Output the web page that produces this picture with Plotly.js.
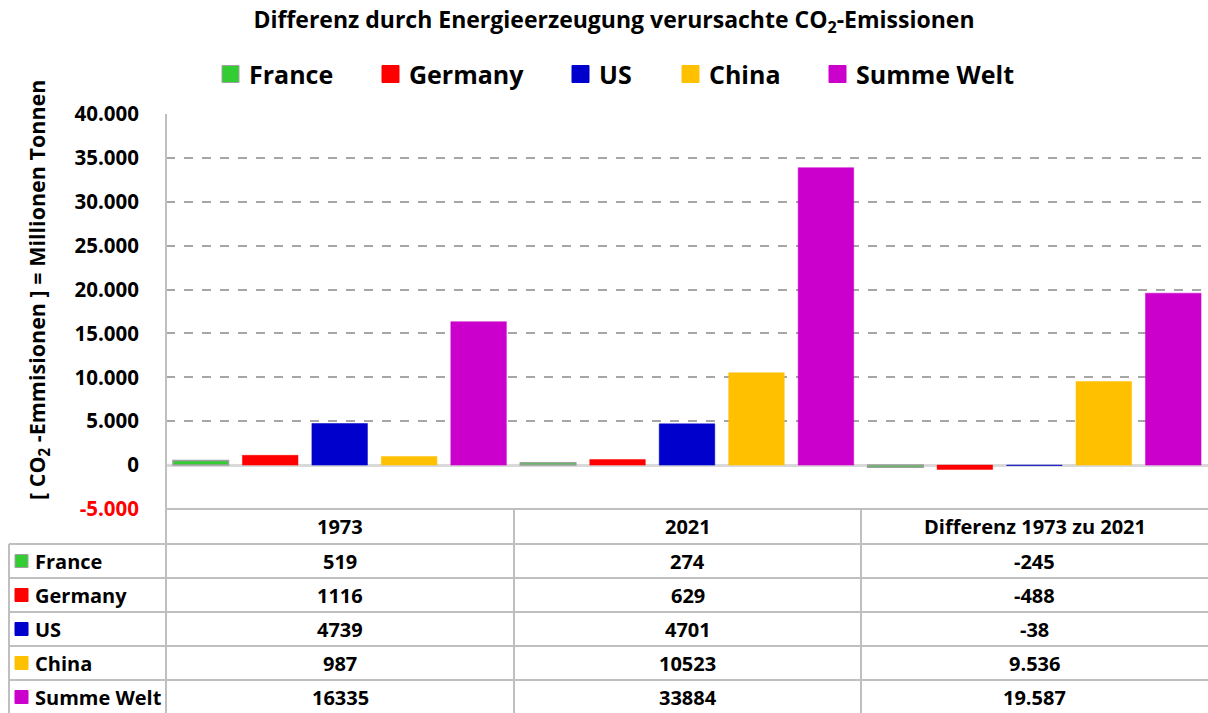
<!DOCTYPE html>
<html>
<head>
<meta charset="utf-8">
<script src="https://cdn.plot.ly/plotly-3.0.1.min.js"></script>
<style>html,body{margin:0;padding:0;background:#fff;}#chart{width:1208px;height:713px;}</style>
</head>
<body>
<div id="chart"></div>
<script>
// ---- data ----
const categories = ['1973', '2021', 'Differenz 1973 zu 2021'];
const seriesNames = ['France', 'Germany', 'US', 'China', 'Summe Welt'];
const france = [519, 274, -245];
const germany = [1116, 629, -488];
const us = [4739, 4701, -38];
const china = [987, 10523, 9536];
const summeWelt = [16335, 33884, 19587];
const seriesColors = ['#33cc33', '#ff0000', '#0000cc', '#ffc000', '#cc00cc'];
const tickVals = [-5000, 0, 5000, 10000, 15000, 20000, 25000, 30000, 35000, 40000];
const tickLabels = ['<span style="color:#ff0000">-5.000</span>', '0', '5.000', '10.000', '15.000', '20.000', '25.000', '30.000', '35.000', '40.000'];

const allSeries = [france, germany, us, china, summeWelt];

// ---- geometry helpers (px -> paper) ----
const W = 1208, H = 713;
const L = 166, R = 1208, T = 114, B = 509;
const xp = px => (px - L) / (R - L);
const yp = py => (B - py) / (B - T);

const FONT = '"Open Sans", Lato, sans-serif';

const traces = seriesNames.map((name, i) => ({
  type: 'bar',
  name: name,
  x: categories,
  y: allSeries[i],
  marker: {
    color: seriesColors[i],
    line: { color: i === 0 ? '#a0a0a0' : seriesColors[i], width: i === 0 ? 1.5 : 0.5 }
  },
  showlegend: false,
  hoverinfo: 'x+y+name'
}));

const shapes = [];
const annotations = [];

// ---- legend (drawn as shapes + annotations) ----
const legendSquareX = [222, 382, 572, 682, 829];
const legendY = 74, legendSq = 17;
seriesNames.forEach((name, i) => {
  const x0 = legendSquareX[i];
  shapes.push({ type: 'rect', xref: 'paper', yref: 'paper', x0: xp(x0), x1: xp(x0 + legendSq), y0: yp(legendY - legendSq / 2), y1: yp(legendY + legendSq / 2), fillcolor: seriesColors[i], line: { color: i === 0 ? '#a0a0a0' : seriesColors[i], width: 1 } });
  annotations.push({ xref: 'paper', yref: 'paper', x: xp(x0 + legendSq + 8), y: yp(legendY), text: name, showarrow: false, xanchor: 'left', yanchor: 'middle', font: { family: FONT, size: 25, weight: 700, color: '#000' } });
});

// ---- y-axis title ----
annotations.push({ xref: 'paper', yref: 'paper', x: xp(38), y: yp(290), text: '[ CO<sub>2</sub> -Emmisionen ] = Millionen Tonnen', textangle: -90, showarrow: false, xanchor: 'center', yanchor: 'middle', font: { family: FONT, size: 21.5, weight: 700, color: '#000' } });

// ---- table (shapes + annotations) ----
const colEdges = [9, 166, 514, 861, 1208];
const headerTop = 509, headerH = 35, rowH = 34;
const gridColor = '#bfbfbf';

function hline(x0, x1, y) {
  shapes.push({ type: 'line', xref: 'paper', yref: 'paper', x0: xp(x0), x1: xp(x1), y0: yp(y), y1: yp(y), line: { color: gridColor, width: 2 } });
}
function vline(x, y0, y1) {
  shapes.push({ type: 'line', xref: 'paper', yref: 'paper', x0: xp(x), x1: xp(x), y0: yp(y0), y1: yp(y1), line: { color: gridColor, width: 2 } });
}
const firstRowTop = headerTop + headerH;
hline(166, 1208, headerTop);
for (let r = 0; r <= seriesNames.length; r++) {
  hline(9, 1208, firstRowTop + r * rowH);
}
vline(166, T, H);
vline(514, headerTop, H);
vline(861, headerTop, H);
vline(9, firstRowTop, H);

function fmt(v, sep) {
  const s = Math.abs(v).toString();
  let out = s;
  if (sep) out = s.replace(/\B(?=(\d{3})+(?!\d))/g, '.');
  return (v < 0 ? '-' : '') + out;
}

const cellFont = { family: FONT, size: 20, color: '#000', weight: 700 };
categories.forEach((c, j) => {
  const cx = (colEdges[j + 1] + colEdges[j + 2]) / 2;
  annotations.push({ xref: 'paper', yref: 'paper', x: xp(cx), y: yp(headerTop + headerH / 2), text: c, showarrow: false, xanchor: 'center', yanchor: 'middle', font: cellFont });
});
seriesNames.forEach((name, i) => {
  const cy = firstRowTop + i * rowH + rowH / 2;
  shapes.push({ type: 'rect', xref: 'paper', yref: 'paper', x0: xp(15), x1: xp(28), y0: yp(cy - 6.5), y1: yp(cy + 6.5), fillcolor: seriesColors[i], line: { color: i === 0 ? '#a0a0a0' : seriesColors[i], width: 1 } });
  annotations.push({ xref: 'paper', yref: 'paper', x: xp(33), y: yp(cy), text: name, showarrow: false, xanchor: 'left', yanchor: 'middle', font: cellFont });
  allSeries[i].forEach((v, j) => {
    const cx = (colEdges[j + 1] + colEdges[j + 2]) / 2;
    annotations.push({ xref: 'paper', yref: 'paper', x: xp(cx), y: yp(cy), text: fmt(v, j === 2), showarrow: false, xanchor: 'center', yanchor: 'middle', font: cellFont });
  });
});

const layout = {
  width: W, height: H,
  margin: { l: L, r: W - R, t: T, b: H - B, pad: 0 },
  paper_bgcolor: '#fff', plot_bgcolor: '#fff',
  font: { family: FONT, color: '#000' },
  separators: ',.',
  title: {
    text: 'Differenz durch Energieerzeugung verursachte CO<sub>2</sub>-Emissionen',
    font: { family: FONT, size: 23, weight: 700, color: '#000' },
    xref: 'container', yref: 'container', x: 614 / W, y: 1 - 20 / H, xanchor: 'center', yanchor: 'middle'
  },
  barmode: 'group',
  bargap: 0,
  bargroupgap: 0.2,
  showlegend: false,
  xaxis: {
    type: 'category', showticklabels: false, ticks: '', showgrid: false, zeroline: false, showline: false,
    fixedrange: true
  },
  yaxis: {
    range: [-5000, 40000], tickmode: 'array', tickvals: tickVals, ticktext: tickLabels,
    tickfont: { family: FONT, size: 20.5, weight: 700, color: '#000' },
    ticks: '', ticklabelstandoff: 26,
    showgrid: true, gridcolor: '#a6a6a6', gridwidth: 1.5, griddash: 'dash',
    zeroline: true, zerolinecolor: '#d9d9d9', zerolinewidth: 2.5,
    showline: false,
    fixedrange: true
  },
  shapes: shapes,
  annotations: annotations
};

Plotly.newPlot('chart', traces, layout, { displayModeBar: false, staticPlot: false });
</script>
</body>
</html>
